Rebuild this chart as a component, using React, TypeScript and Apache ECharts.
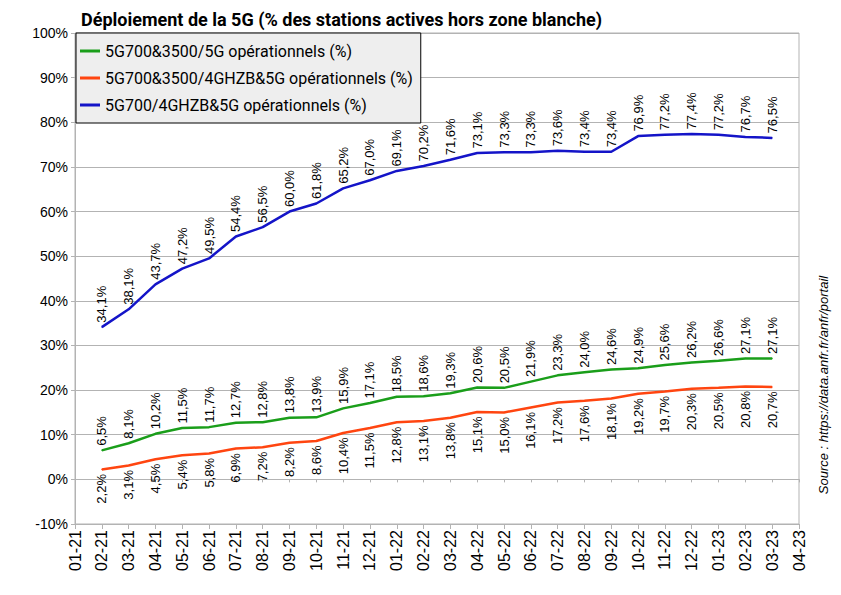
import React, { useEffect, useRef } from "react";
import * as echarts from "echarts";

const months = [
  "01-21", "02-21", "03-21", "04-21", "05-21", "06-21", "07-21", "08-21", "09-21", "10-21",
  "11-21", "12-21", "01-22", "02-22", "03-22", "04-22", "05-22", "06-22", "07-22", "08-22",
  "09-22", "10-22", "11-22", "12-22", "01-23", "02-23", "03-23", "04-23",
];

const green5G = [
  6.5, 8.1, 10.2, 11.5, 11.7, 12.7, 12.8, 13.8, 13.9, 15.9, 17.1, 18.5, 18.6,
  19.3, 20.6, 20.5, 21.9, 23.3, 24.0, 24.6, 24.9, 25.6, 26.2, 26.6, 27.1, 27.1,
];
const red4GHZB = [
  2.2, 3.1, 4.5, 5.4, 5.8, 6.9, 7.2, 8.2, 8.6, 10.4, 11.5, 12.8, 13.1,
  13.8, 15.1, 15.0, 16.1, 17.2, 17.6, 18.1, 19.2, 19.7, 20.3, 20.5, 20.8, 20.7,
];
const blue700 = [
  34.1, 38.1, 43.7, 47.2, 49.5, 54.4, 56.5, 60.0, 61.8, 65.2, 67.0, 69.1, 70.2,
  71.6, 73.1, 73.3, 73.3, 73.6, 73.4, 73.4, 76.9, 77.2, 77.4, 77.2, 76.7, 76.5,
];

const seriesNames = [
  "5G700&3500/5G opérationnels (%)",
  "5G700&3500/4GHZB&5G opérationnels (%)",
  "5G700/4GHZB&5G opérationnels (%)",
];
const colors = ["#1a9e1a", "#ff4510", "#1414c8"];

const pad = (arr: number[]) => [null, ...arr, null];
const fmt = (p: any) =>
  p.value == null ? "" : Number(p.value).toFixed(1).replace(".", ",") + "%";

export default function App() {
  const ref = useRef<HTMLDivElement>(null);
  useEffect(() => {
    document.body.style.margin = "0";
    const chart = echarts.init(ref.current!, null, { renderer: "svg" });
    const labelFont = "Liberation Sans, Arial, sans-serif";
    const mk = (i: number, arr: number[], below: boolean) => ({
      name: seriesNames[i],
      type: "line",
      data: pad(arr),
      symbol: "circle",
      symbolSize: 1,
      showSymbol: true,
      showAllSymbol: true,
      connectNulls: false,
      color: colors[i],
      itemStyle: { color: colors[i] },
      lineStyle: { width: 2.5, color: colors[i] },
      label: {
        show: true,
        position: below ? "bottom" : "top",
        rotate: 90,
        align: below ? "right" : "left",
        verticalAlign: "middle",
        distance: 4,
        fontSize: 13,
        fontFamily: labelFont,
        color: "#000",
        formatter: fmt,
      },
    });
    chart.setOption({
      animation: false,
      backgroundColor: "#fff",
      title: {
        text: "Déploiement de la 5G (% des stations actives hors zone blanche)",
        left: 76,
        top: 5,
        textStyle: { fontSize: 18, fontWeight: "bold", fontFamily: "Roboto", color: "#000" },
      },
      legend: {
        orient: "vertical",
        left: 76,
        top: 33,
        padding: [10, 8, 10, 4],
        itemGap: 11,
        itemWidth: 20,
        itemHeight: 3,
        icon: "rect",
        backgroundColor: "#eeeeee",
        borderColor: "#000",
        borderWidth: 1,
        borderRadius: 0,
        data: seriesNames,
        textStyle: { fontSize: 16, fontFamily: "Roboto", color: "#000", padding: [0, 0, 0, 0] },
      },
      grid: {
        left: 75,
        right: 42,
        top: 33,
        bottom: 71,
        show: true,
        borderColor: "#b3b3b3",
        borderWidth: 1,
      },
      xAxis: [
        {
          type: "category",
          data: months,
          boundaryGap: false,
          position: "bottom",
          axisLine: { onZero: false, lineStyle: { color: "#b3b3b3" } },
          axisTick: { show: true, interval: 0, length: 5, lineStyle: { color: "#b3b3b3" } },
          axisLabel: { rotate: 90, interval: 0, fontSize: 16, margin: 6, color: "#000", fontFamily: labelFont },
          splitLine: { show: false },
        },
        {
          type: "category",
          data: months,
          boundaryGap: false,
          position: "bottom",
          axisLine: { onZero: true, lineStyle: { color: "#b3b3b3" } },
          axisTick: { show: true, interval: 0, length: 3, lineStyle: { color: "#b3b3b3" } },
          axisLabel: { show: false },
          splitLine: { show: false },
        },
      ],
      yAxis: {
        type: "value",
        min: -10,
        max: 100,
        interval: 10,
        axisLine: { show: true, lineStyle: { color: "#b3b3b3" } },
        axisTick: { show: true, length: 4, lineStyle: { color: "#b3b3b3" } },
        axisLabel: { formatter: "{value}%", fontSize: 14, margin: 7, color: "#000", fontFamily: labelFont },
        splitLine: { lineStyle: { color: "#b3b3b3", width: 1 } },
      },
      series: [mk(0, green5G, false), mk(1, red4GHZB, true), mk(2, blue700, false)],
      graphic: [
        {
          type: "text",
          x: 823,
          y: 385,
          rotation: Math.PI / 2,
          style: {
            text: "Source : https://data.anfr.fr/anfr/portail",
            fontSize: 13,
            fontStyle: "italic",
            fontFamily: labelFont,
            fill: "#000",
            align: "center",
            verticalAlign: "middle",
          },
        },
      ],
    });
    return () => chart.dispose();
  }, []);
  return <div ref={ref} style={{ width: 841, height: 595 }} />;
}
